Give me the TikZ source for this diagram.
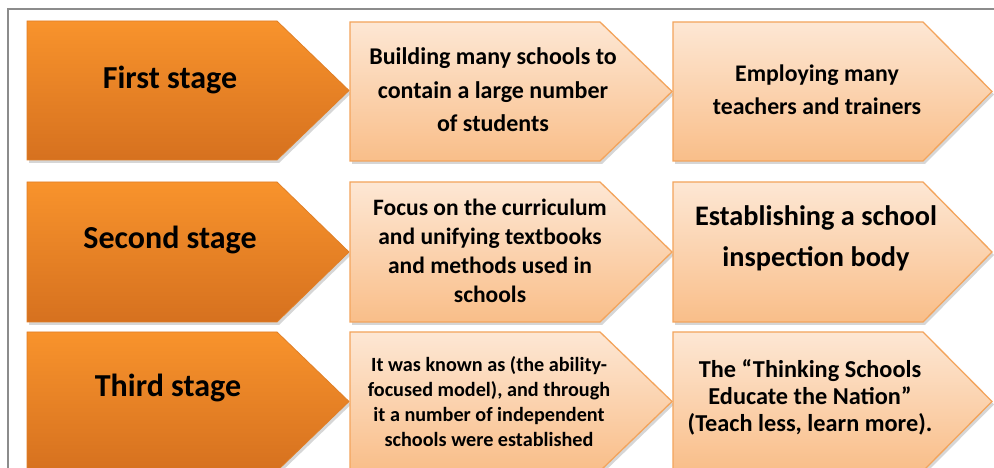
\documentclass[tikz,border=0pt]{standalone}
\usepackage{fontspec}
\setmainfont{Carlito}
\definecolor{stageTop}{HTML}{F8932C}
\definecolor{stageBot}{HTML}{D6711F}
\definecolor{stageEdge}{HTML}{E07F27}
\definecolor{noteTop}{HTML}{FDE7D4}
\definecolor{noteBot}{HTML}{F9BE89}
\definecolor{noteEdge}{HTML}{F3A45C}
\definecolor{frameGray}{HTML}{8C8C8C}
% chevron: left x, end of flat top, tip x, bottom y, top y, style
\newcommand\chevron[6]{%
  \fill[black, opacity=0.16] (#1+2,#4-3) -- (#1+2,#5-3) -- (#2+2,#5-3)
      -- (#3+2,{(#4+#5)/2-3}) -- (#2+2,#4-3) -- cycle;
  \shade[#6] (#1,#4) -- (#1,#5) -- (#2,#5) -- (#3,{(#4+#5)/2}) -- (#2,#4) -- cycle;
}
\tikzset{
  stagebox/.style={top color=stageTop, bottom color=stageBot, draw=stageEdge, line width=0.8pt},
  notebox/.style={top color=noteTop, bottom color=noteBot, draw=noteEdge, line width=1.3pt, line join=miter},
  stagetext/.style={font=\bfseries\fontsize{32}{34}\selectfont, text=black, align=center, inner sep=0pt},
  notetext/.style={font=\bfseries\fontsize{#1}{#1}\selectfont, text=black, align=center, inner sep=0pt},
}
\begin{document}
\begin{tikzpicture}[x=1pt,y=1pt]
\useasboundingbox (0,0) rectangle (994,468);
\fill[white] (0,0) rectangle (994,468);
\draw[frameGray, line width=1.2pt] (8,0) -- (8,459) -- (994,459);

% row 1
\chevron{27}{277}{349}{308}{447}{stagebox}
\chevron{350}{600}{672}{307}{446}{notebox}
\chevron{673}{923}{992}{307}{446}{notebox}
% row 2
\chevron{27}{277}{349}{146}{286}{stagebox}
\chevron{350}{600}{672}{146}{286}{notebox}
\chevron{673}{923}{992}{146}{286}{notebox}
% row 3
\chevron{27}{277}{349}{-3}{136}{stagebox}
\chevron{350}{600}{672}{-3}{136}{notebox}
\chevron{673}{923}{992}{-3}{136}{notebox}

% stage labels
\node[stagetext] (s1) at (170,388) {First stage};
\node[stagetext] (s2) at (170,228) {Second stage};
\node[stagetext] (s3) at (168,80) {Third stage};

% descriptions
\node[notetext=24, execute at begin node=\setlength{\baselineskip}{33.5pt}] (m1) at (493,378)
  {Building many schools to\\contain a large number\\of students};
\node[notetext=23.8, execute at begin node=\setlength{\baselineskip}{33pt}] (r1) at (817,378)
  {Employing many\\teachers and trainers};
\node[notetext=23.5, execute at begin node=\setlength{\baselineskip}{29pt}] (m2) at (490,217)
  {Focus on the curriculum\\and unifying textbooks\\and methods used in\\schools};
\node[notetext=28.3, execute at begin node=\setlength{\baselineskip}{41pt}] (r2) at (816,230)
  {Establishing a school\\inspection body};
\node[notetext=20.2, execute at begin node=\setlength{\baselineskip}{25pt}] (m3) at (489,66)
  {It was known as (the ability-\\focused model), and through\\it a number of independent\\schools were established};
\node[notetext=24.3, execute at begin node=\setlength{\baselineskip}{27pt}] (r3) at (810,71)
  {The “Thinking Schools\\Educate the Nation”\\(Teach less, learn more).};
\end{tikzpicture}
\end{document}
